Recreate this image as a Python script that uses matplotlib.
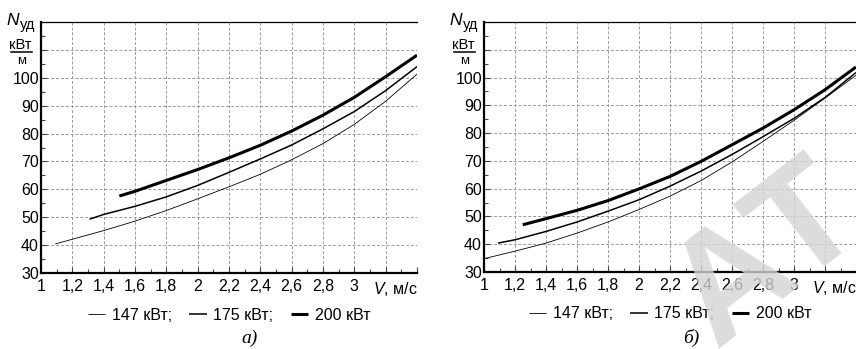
import matplotlib
matplotlib.use("Agg")
import matplotlib.pyplot as plt
from matplotlib.lines import Line2D
from matplotlib.ticker import MultipleLocator, FuncFormatter

plt.rcParams['font.family'] = ['Liberation Sans', 'DejaVu Sans']
plt.rcParams['mathtext.fontset'] = 'custom'
plt.rcParams['mathtext.it'] = 'Liberation Sans:italic'
plt.rcParams['mathtext.rm'] = 'Liberation Sans'

# --- данные ---
# а)
v147_a = [1.09, 1.2, 1.4, 1.6, 1.8, 2.0, 2.2, 2.4, 2.6, 2.8, 3.0, 3.2, 3.4]
n147_a = [40.4, 42.1, 45.2, 48.6, 52.4, 56.6, 60.9, 65.4, 70.6, 76.4, 83.3, 91.6, 101.3]
v175_a = [1.31, 1.4, 1.6, 1.8, 2.0, 2.2, 2.4, 2.6, 2.8, 3.0, 3.2, 3.4]
n175_a = [49.3, 51.0, 53.9, 57.3, 61.4, 66.1, 70.9, 75.9, 81.7, 87.9, 95.4, 104.0]
v200_a = [1.5, 1.6, 1.8, 2.0, 2.2, 2.4, 2.6, 2.8, 3.0, 3.2, 3.4]
n200_a = [57.6, 59.3, 63.2, 67.1, 71.3, 75.8, 80.9, 86.6, 93.0, 100.4, 108.1]

# б)
v147_b = [1.0, 1.2, 1.4, 1.6, 1.8, 2.0, 2.2, 2.4, 2.6, 2.8, 3.0, 3.2, 3.4]
n147_b = [34.8, 37.5, 40.4, 44.0, 48.0, 52.5, 57.3, 62.9, 69.6, 77.0, 84.6, 92.6, 100.8]
v175_b = [1.09, 1.2, 1.4, 1.6, 1.8, 2.0, 2.2, 2.4, 2.6, 2.8, 3.0, 3.2, 3.4]
n175_b = [40.4, 41.6, 44.6, 48.0, 51.9, 56.0, 60.9, 66.3, 72.3, 78.7, 85.3, 92.8, 101.8]
v200_b = [1.25, 1.4, 1.6, 1.8, 2.0, 2.2, 2.4, 2.6, 2.8, 3.0, 3.2, 3.4]
n200_b = [47.0, 49.2, 52.2, 55.7, 59.9, 64.4, 69.8, 75.8, 81.8, 88.4, 95.6, 103.8]

labels = ['147 кВт;', '175 кВт;', '200 кВт']
widths = [0.6, 1.1, 2.2]

W, H = 856, 349
fig = plt.figure(figsize=(W / 100, H / 100), dpi=100)


def px(x, y):
    return x / W, 1 - y / H


def setup(ax, x0):
    ax.set_xlim(1, 3.4)
    ax.set_ylim(30, 120)
    ax.xaxis.set_major_locator(MultipleLocator(0.2))
    ax.xaxis.set_minor_locator(MultipleLocator(0.1))
    ax.yaxis.set_major_locator(MultipleLocator(10))
    ax.yaxis.set_minor_locator(MultipleLocator(5))
    ax.xaxis.set_major_formatter(FuncFormatter(
        lambda v, p: '' if v > 3.05 else ('%g' % round(v, 1)).replace('.', ',')))
    ax.yaxis.set_major_formatter(FuncFormatter(
        lambda v, p: '' if v > 105 else '%d' % v))
    ax.tick_params(which='both', direction='in', width=0.8, color='#444444', labelsize=11.5)
    ax.tick_params(which='major', length=4)
    ax.tick_params(which='minor', length=3)
    ax.tick_params(axis='x', pad=4)
    ax.tick_params(axis='y', pad=1.5)
    ax.grid(True, which='major', color='#9a9a9a', linestyle=(0, (3, 2)), linewidth=0.7)
    for s in ['left', 'bottom']:
        ax.spines[s].set_linewidth(1.6)
    ax.spines['top'].set_linewidth(0.9)
    ax.spines['right'].set_visible(False)
    ax.annotate(r'$V$, м/с', xy=(1, 0), xycoords='axes fraction', xytext=(1, -7),
                textcoords='offset pixels', ha='right', va='top', fontsize=11.5)
    # подпись оси Y
    fig.text(*px(x0 - 35, 25), 'N', fontsize=12.5, style='italic', ha='left', va='baseline')
    fig.text(*px(x0 - 21, 29), 'уд', fontsize=10.5, ha='left', va='baseline')
    fig.text(*px(x0 - 32, 49), 'кВт', fontsize=10.5, ha='left', va='baseline')
    fig.add_artist(Line2D([px(x0 - 30, 0)[0], px(x0 - 9, 0)[0]], [px(0, 52)[1]] * 2,
                          color='black', linewidth=1.1))
    fig.text(*px(x0 - 19, 64), 'м', fontsize=9.5, ha='center', va='baseline')


ax1 = fig.add_axes([41 / W, 76 / H, 376 / W, 251 / H])
ax2 = fig.add_axes([484 / W, 77 / H, 372 / W, 250 / H])

for ax, x0, series in [
    (ax1, 41, [(v147_a, n147_a), (v175_a, n175_a), (v200_a, n200_a)]),
    (ax2, 484, [(v147_b, n147_b), (v175_b, n175_b), (v200_b, n200_b)]),
]:
    setup(ax, x0)
    handles = []
    for (v, n), lw, lab in zip(series, widths, labels):
        h, = ax.plot(v, n, color='black', linewidth=lw, solid_capstyle='butt', label=lab)
        handles.append(h)
    ax.legend(handles=handles, loc='center', bbox_to_anchor=(0.5, -42 / 251), ncol=3,
              frameon=False, fontsize=11.5, handlelength=1.1, handletextpad=0.4,
              columnspacing=1.1, borderaxespad=0)

fig.text(*px(250, 338), 'а)', fontsize=14, style='italic', family='Liberation Serif',
         ha='center', va='center')
fig.text(*px(691, 338), 'б)', fontsize=14, style='italic', family='Liberation Serif',
         ha='center', va='center')

# водяной знак
fig.text(*px(768, 258), 'АТ', fontsize=110, fontweight='bold', color='#d4d4d4', alpha=0.8,
         rotation=38, ha='center', va='center', zorder=10)

fig.savefig('out.png', dpi=100)
